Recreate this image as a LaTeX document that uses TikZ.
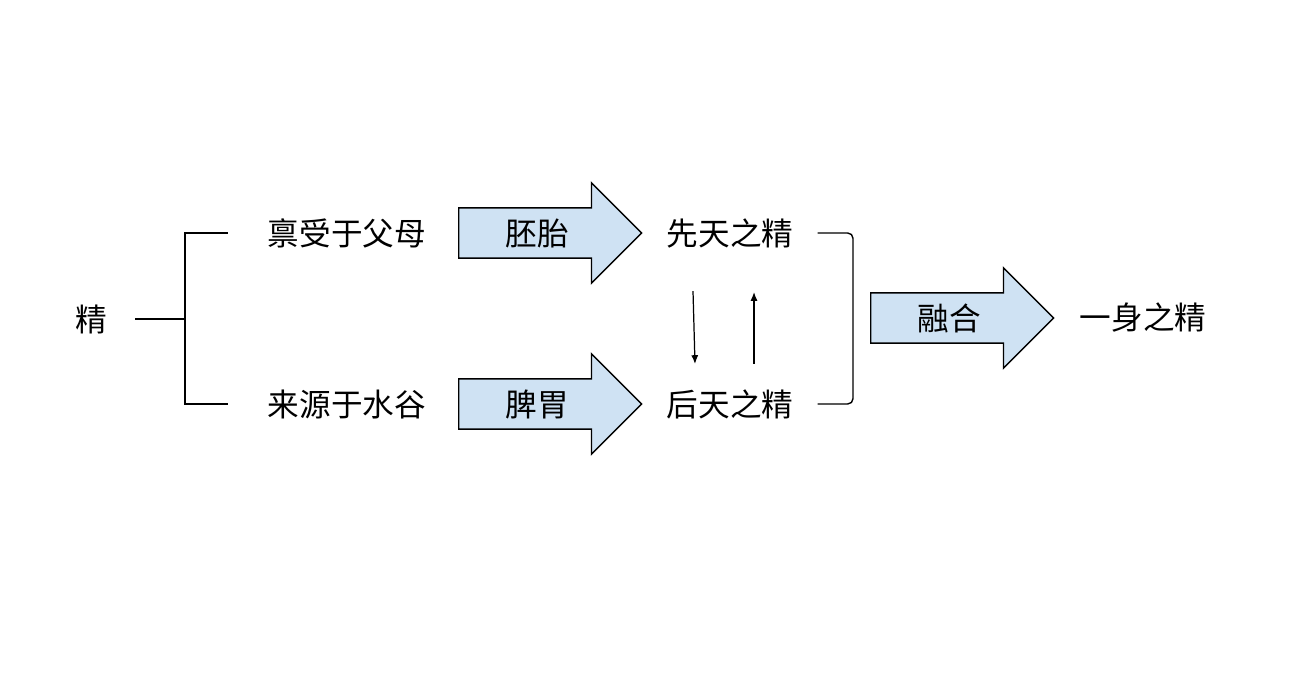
\documentclass[tikz,border=0pt]{standalone}
\usepackage{fontspec}
\setmainfont{Noto Sans CJK SC}
\usetikzlibrary{arrows.meta,shapes.arrows,calc}
\definecolor{paleblue}{HTML}{CFE2F3}

\begin{document}
\begin{tikzpicture}[x=0.02cm, y=-0.02cm, every node/.style={font=\fontsize{18}{21}\selectfont, inner sep=0pt}, >={Latex[length=5pt, width=4pt]}, ln/.style={line width=0.8pt}, barr/.style={single arrow, draw, line width=0.8pt, fill=paleblue, single arrow head extend=0.5cm, single arrow tip angle=90, minimum height=3.66cm, text height=0.74cm, text depth=0.24cm, inner ysep=0pt, anchor=tail}]
	\useasboundingbox (0,0) rectangle (1294,678);
	% left side
	\node (jing) at (91,319) {精};
	\node (bs) at (347,233) {禀受于父母};
	\node (ly) at (347,404) {来源于水谷};
	\coordinate (fork) at (185,319);
	\draw[ln] ($(jing.east)+(28,0)$) -- (fork);
	\draw[ln] ($(bs.west)+(-40,0)$) -| (fork) |- ($(ly.west)+(-40,0)$);
	% block arrows
	\node[barr] (pt) at (458,233) {胚胎};
	\node[barr] (pw) at (458,404) {脾胃};
	\node (xt) at (730,233) {先天之精};
	\node (ht) at (730,404) {后天之精};
	\draw[->, line width=0.7pt] ($(xt.south)+(-37,43)$) -- ($(ht.north)+(-35,-25)$);
	\draw[->, line width=0.7pt] ($(ht.north)+(24,-25)$) -- ($(xt.south)+(24,44)$);
	% right side
	\coordinate (rb) at (853,319);
	\draw[ln, rounded corners=3pt] ($(xt.east)+(24,0)$) -| (rb) |- ($(ht.east)+(24,0)$);
	\node[barr] (rh) at (870,318) {融合};
	\node (ys) at (1143,318) {一身之精};
\end{tikzpicture}
\end{document}
